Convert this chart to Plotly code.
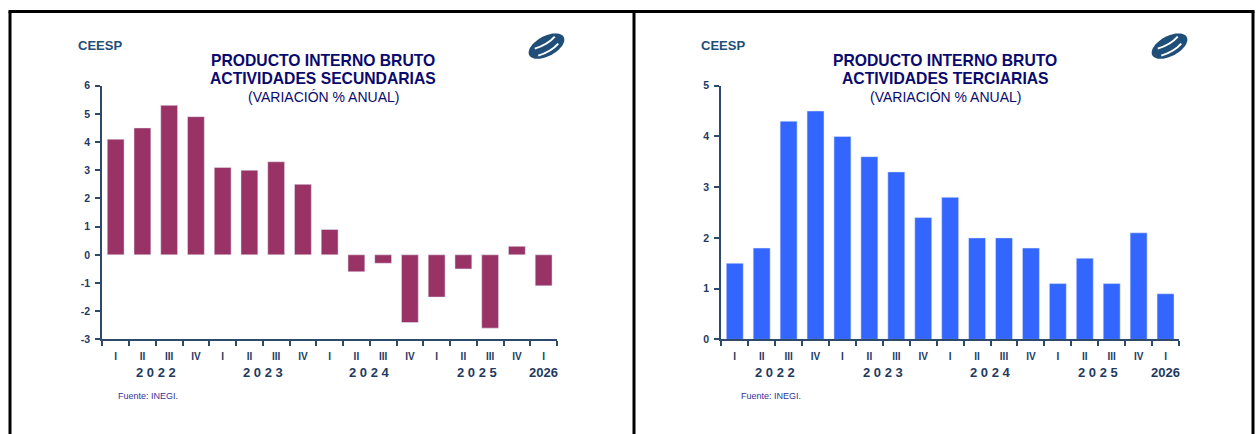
import numpy as np
import plotly.graph_objects as go

W, H = 1260, 434

quarters = ["I", "II", "III", "IV", "I", "II", "III", "IV", "I", "II", "III", "IV",
            "I", "II", "III", "IV", "I"]
years = ["2 0 2 2", "2 0 2 3", "2 0 2 4", "2 0 2 5", "2026"]
year_pos = [1.5, 5.5, 9.5, 13.5, 16]
secundarias = [4.1, 4.5, 5.3, 4.9, 3.1, 3.0, 3.3, 2.5, 0.9, -0.6, -0.3, -2.4,
               -1.5, -0.5, -2.6, 0.3, -1.1]
terciarias = [1.5, 1.8, 4.3, 4.5, 4.0, 3.6, 3.3, 2.4, 2.8, 2.0, 2.0, 1.8,
              1.1, 1.6, 1.1, 2.1, 0.9]
left_yticks = [-3, -2, -1, 0, 1, 2, 3, 4, 5, 6]
right_yticks = [0, 1, 2, 3, 4, 5]

# vertical calibration of the photographed page
VS, VO = 0.972, 5.4


def px(x):
    return x / W


def py(y):
    yy = (y - VO) / VS
    return 1 - yy / H


FONT = "Liberation Sans, Arial, sans-serif"
AXC = "#2E4A6B"
TXT = "#1F3A5F"
NAVY = "#0A0A6E"

xpos = list(range(len(quarters)))

fig = go.Figure()
fig.add_trace(go.Bar(x=xpos, y=secundarias, marker_color="#993366", width=0.63,
                     xaxis="x", yaxis="y", showlegend=False))
fig.add_trace(go.Bar(x=xpos, y=terciarias, marker_color="#3366FF", width=0.63,
                     xaxis="x2", yaxis="y2", showlegend=False))

ydom = [py(338.7), py(85)]


def xaxis_cfg(dom):
    return dict(domain=dom, range=[-0.5, len(quarters) - 0.5], tickmode="array",
                tickvals=xpos, ticktext=quarters, ticks="", showline=True,
                linecolor=AXC, linewidth=2, showgrid=False, zeroline=False,
                tickfont=dict(family=FONT, size=10, color=TXT, weight="bold"),
                ticklabelstandoff=7, fixedrange=True,
                minor=dict(tickmode="linear", tick0=-0.5, dtick=1, ticks="outside",
                           ticklen=5, tickcolor=AXC, tickwidth=1.5, showgrid=False))


def yaxis_cfg(rng, vals):
    return dict(domain=ydom, range=rng, tickmode="array", tickvals=vals,
                ticktext=[str(v) for v in vals],
                ticks="outside", ticklen=5, tickcolor=AXC, tickwidth=1.5,
                showline=True, linecolor=AXC, linewidth=2, showgrid=False,
                zeroline=False, ticklabelstandoff=3,
                tickfont=dict(family=FONT, size=10.5, color=TXT, weight="bold"))


layout_axes = dict(
    xaxis=xaxis_cfg([px(102.3), px(557)]),
    yaxis=dict(anchor="x", **yaxis_cfg([-3, 6], left_yticks)),
    xaxis2=dict(anchor="y2", **xaxis_cfg([px(721.3), px(1179)])),
    yaxis2=dict(anchor="x2", **yaxis_cfg([0, 5], right_yticks)),
)

annotations = []
shapes = []

panels = [
    dict(off=0, title2="ACTIVIDADES SECUNDARIAS", cx=323, xa="x"),
    dict(off=623, title2="ACTIVIDADES TERCIARIAS", cx=945, xa="x2"),
]

for p in panels:
    o = p["off"]
    annotations.append(dict(text="CEESP", x=px(76 + o), y=py(45), xref="paper", yref="paper",
                            xanchor="left", yanchor="middle", showarrow=False,
                            font=dict(family=FONT, size=13, color="#1F4E79", weight="bold")))
    annotations.append(dict(text="PRODUCTO INTERNO BRUTO", x=px(p["cx"]), y=py(60),
                            xref="paper", yref="paper", xanchor="center", yanchor="middle",
                            showarrow=False,
                            font=dict(family=FONT, size=15.7, color=NAVY, weight="bold")))
    annotations.append(dict(text=p["title2"], x=px(p["cx"]), y=py(78),
                            xref="paper", yref="paper", xanchor="center", yanchor="middle",
                            showarrow=False,
                            font=dict(family=FONT, size=15.7, color=NAVY, weight="bold")))
    annotations.append(dict(text="(VARIACIÓN % ANUAL)", x=px(p["cx"]), y=py(96),
                            xref="paper", yref="paper", xanchor="center", yanchor="middle",
                            showarrow=False,
                            font=dict(family=FONT, size=14, color=NAVY)))
    annotations.append(dict(text="Fuente: INEGI.", x=px(116 + o), y=py(395),
                            xref="paper", yref="paper", xanchor="left", yanchor="middle",
                            showarrow=False,
                            font=dict(family=FONT, size=9, color="#333399")))
    for yl, xv in zip(years, year_pos):
        annotations.append(dict(text=yl, x=xv, y=py(372), xref=p["xa"], yref="paper",
                                xanchor="center", yanchor="middle", showarrow=False,
                                font=dict(family=FONT, size=13, color=TXT, weight="bold")))

    # logo: rotated ellipse with white swooshes
    cx, cy = 546.5 + o, 45.5
    t = np.linspace(0, 2 * np.pi, 60)
    a, b, ang = 19.5, 10, np.deg2rad(28)
    ex = cx + a * np.cos(t) * np.cos(ang) - b * np.sin(t) * np.sin(ang)
    ey = cy - (a * np.cos(t) * np.sin(ang) + b * np.sin(t) * np.cos(ang))
    path = "M " + " L ".join(f"{px(X):.5f},{py(Y):.5f}" for X, Y in zip(ex, ey)) + " Z"
    shapes.append(dict(type="path", path=path, xref="paper", yref="paper",
                       fillcolor="#1F4E79", line=dict(width=0)))
    for d in (-3.5, 3.5):
        x0, y0 = cx - 10 + d * 0.5, cy + 6 + d
        x1, y1 = cx + 10 + d * 0.5, cy - 6 + d
        qx, qy = cx + d * 0.5 + 3, cy + d + 2
        shapes.append(dict(type="path",
                           path=f"M {px(x0):.5f},{py(y0):.5f} Q {px(qx):.5f},{py(qy):.5f} {px(x1):.5f},{py(y1):.5f}",
                           xref="paper", yref="paper", line=dict(color="white", width=2)))

# frame borders
for xv in (10, 634, 1253):
    shapes.append(dict(type="line", xref="paper", yref="paper", x0=px(xv), x1=px(xv),
                       y0=py(11), y1=py(460), line=dict(color="black", width=3)))
shapes.append(dict(type="line", xref="paper", yref="paper", x0=px(8.5), x1=px(1254.5),
                   y0=py(11), y1=py(11), line=dict(color="black", width=3)))

fig.update_layout(width=W, height=H, margin=dict(l=0, r=0, t=0, b=0),
                  paper_bgcolor="white", plot_bgcolor="white",
                  annotations=annotations, shapes=shapes, bargap=0.37,
                  **layout_axes)

post = (
    "document.documentElement.style.margin='0';"
    "document.documentElement.style.overflow='hidden';"
    "document.body.style.margin='0';"
    "document.body.style.overflow='hidden';"
    "var gd=document.getElementsByClassName('plotly-graph-div')[0];"
    "gd.style.position='absolute';gd.style.left='0px';gd.style.top='0px';"
)
fig.write_html("out.html", config={"displayModeBar": False}, post_script=post)
